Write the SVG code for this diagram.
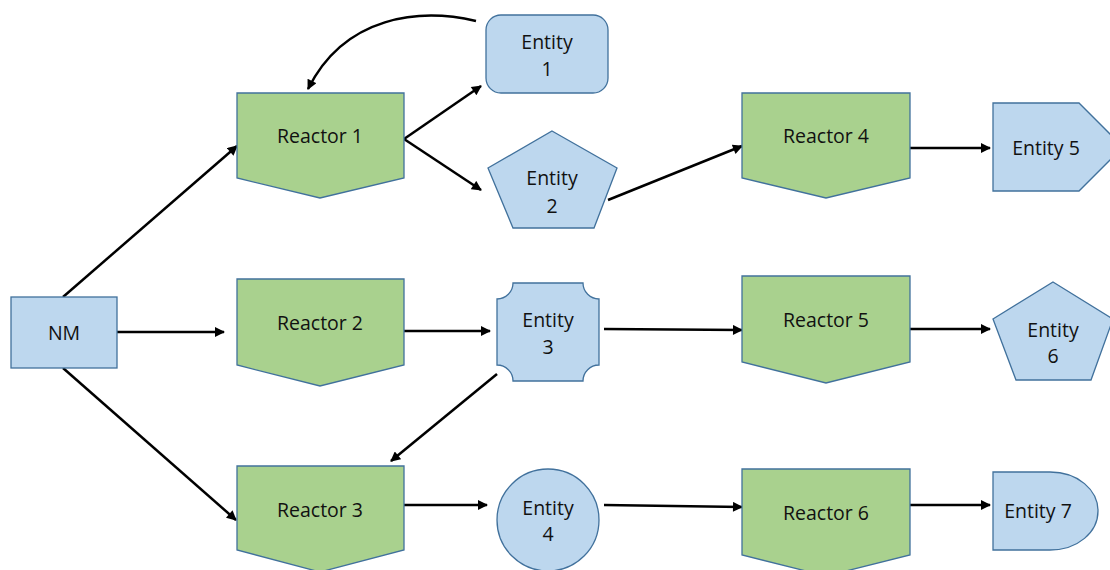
<svg xmlns="http://www.w3.org/2000/svg" width="1110" height="570" viewBox="0 0 1110 570">
<style>
.r{fill:#a9d18e;stroke:#41719c;stroke-width:1.3}
.e{fill:#bdd7ee;stroke:#41719c;stroke-width:1.3}
.t{font-family:"Open Sans","Liberation Sans",sans-serif;font-size:19.5px;fill:#111;text-anchor:middle}
.c{fill:none;stroke:#000;stroke-width:2.5;marker-end:url(#ah)}
</style>
<defs>
<marker id="ah" viewBox="0 0 10 10" refX="9" refY="5" markerWidth="4.4" markerHeight="4" markerUnits="strokeWidth" orient="auto">
<path d="M0,0 L10,5 L0,10 z" fill="#000"/>
</marker>
</defs>
<rect width="1110" height="570" fill="#fff"/>
<g id="connectors">
<path class="c" d="M476,21 C420,8 345,15 308,89"/>
<path class="c" d="M404,139 L481,86"/>
<path class="c" d="M404,139 L481,190"/>
<path class="c" d="M63,297 L237,146"/>
<path class="c" d="M117,332 L224,332"/>
<path class="c" d="M63,368 L236,520"/>
<path class="c" d="M404,331 L490,331"/>
<path class="c" d="M497,374 L391,461"/>
<path class="c" d="M404,505 L487,505"/>
<path class="c" d="M608,200 L742,146"/>
<path class="c" d="M604,329 L742,330"/>
<path class="c" d="M604,505 L742,507"/>
<path class="c" d="M910,148 L990,148"/>
<path class="c" d="M910,329 L990,329"/>
<path class="c" d="M910,505 L990,505"/>
</g>
<g id="nm"><rect class="e" x="11" y="297" width="106" height="71"/><text class="t" x="64" y="340">NM</text></g>
<g id="reactor1"><path class="r" d="M237,93 H404 V178 L320,198 L237,178 Z"/><text class="t" x="320" y="143">Reactor 1</text></g>
<g id="reactor2"><path class="r" d="M237,279 H404 V365 L320,386 L237,365 Z"/><text class="t" x="320" y="330">Reactor 2</text></g>
<g id="reactor3"><path class="r" d="M237,466 H404 V550 L320,572 L237,550 Z"/><text class="t" x="320" y="517">Reactor 3</text></g>
<g id="reactor4"><path class="r" d="M742,93 H910 V178 L826,198 L742,178 Z"/><text class="t" x="826" y="143">Reactor 4</text></g>
<g id="reactor5"><path class="r" d="M742,276 H910 V362 L826,383 L742,362 Z"/><text class="t" x="826" y="327">Reactor 5</text></g>
<g id="reactor6"><path class="r" d="M742,469 H910 V555 L826,576 L742,555 Z"/><text class="t" x="826" y="520">Reactor 6</text></g>
<g id="entity1"><rect class="e" x="486" y="15" width="122" height="78" rx="15"/><text class="t" x="547" y="49">Entity</text><text class="t" x="547" y="76">1</text></g>
<g id="entity2"><path class="e" d="M552,131 L617,168 L594,228 L513,228 L488,168 Z"/><text class="t" x="552" y="185">Entity</text><text class="t" x="552" y="213">2</text></g>
<g id="entity3"><path class="e" d="M513,283 H583 A16,16 0 0 0 599,299 V365 A16,16 0 0 0 583,381 H513 A16,16 0 0 0 497,365 V299 A16,16 0 0 0 513,283 Z"/><text class="t" x="548" y="327">Entity</text><text class="t" x="548" y="354">3</text></g>
<g id="entity4"><ellipse class="e" cx="548" cy="520" rx="51" ry="51"/><text class="t" x="548" y="515">Entity</text><text class="t" x="548" y="541">4</text></g>
<g id="entity5"><path class="e" d="M993,103 H1079 L1123,147 L1079,191 H993 Z"/><text class="t" x="1046" y="155">Entity 5</text></g>
<g id="entity6"><path class="e" d="M1053,282 L1113,319 L1091,380 L1016,380 L993,319 Z"/><text class="t" x="1053" y="337">Entity</text><text class="t" x="1053" y="363">6</text></g>
<g id="entity7"><path class="e" d="M993,472 H1050 C1078,472 1098,490 1098,511 C1098,532 1078,550 1050,550 H993 Z"/><text class="t" x="1038" y="518">Entity 7</text></g>
</svg>
